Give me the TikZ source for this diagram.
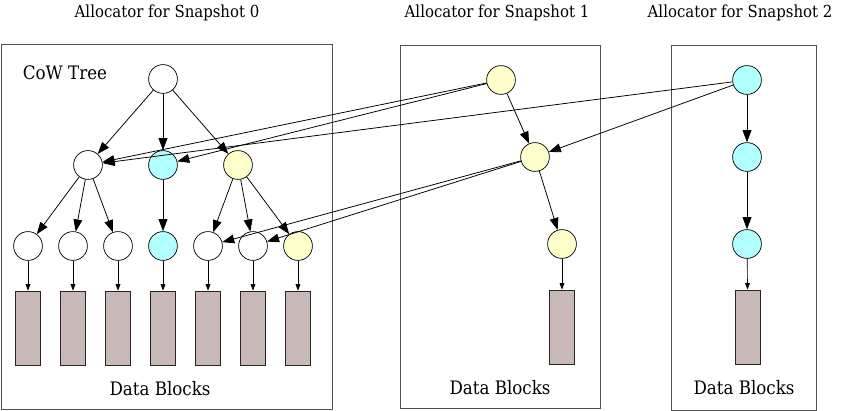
\documentclass[tikz,border=0pt]{standalone}
\usepackage{fontspec}
\setmainfont{DejaVu Serif Condensed}
\usepackage{tikz}
\usetikzlibrary{arrows.meta}
\definecolor{myyellow}{RGB}{255,255,204}
\definecolor{mycyan}{RGB}{178,255,255}
\definecolor{myblock}{RGB}{200,184,184}
\definecolor{myframe}{RGB}{80,80,80}
\tikzset{
  allocframe/.style={draw=myframe, line width=0.7pt},
  treenode/.style={circle, draw=black, fill=white,
    minimum size=0.72cm, inner sep=0pt, line width=0.5pt},
  yellownode/.style={treenode, fill=myyellow},
  cyannode/.style={treenode, fill=mycyan},
  datablock/.style={rectangle, draw=black!85, fill=myblock,
    minimum width=0.63cm, minimum height=1.85cm, inner sep=0pt, line width=0.6pt},
  arrow/.style={-{Triangle[length=3mm, width=2.2mm]}, line width=0.55pt},
  smallarrow/.style={-{Triangle[length=1.6mm, width=1.2mm]}, line width=0.45pt},
  titletxt/.style={font=\fontsize{11.8}{13}\selectfont},
  txt/.style={font=\fontsize{13.2}{15}\selectfont}
}

\begin{document}
\begin{tikzpicture}[x=0.025cm, y=-0.025cm]
  \useasboundingbox (0,0) rectangle (846,411);

  % Allocator frames
  \draw[allocframe] (1,44) rectangle (332,409);
  \draw[allocframe] (400,45) rectangle (600,408);
  \draw[allocframe] (671,45) rectangle (816,410);

  \node[titletxt] (title0) at (167,13) {Allocator for Snapshot 0};
  \node[titletxt] (title1) at (497,13) {Allocator for Snapshot 1};
  \node[titletxt] (title2) at (740,13) {Allocator for Snapshot 2};
  \node[txt] (cowlabel) at (65,73) {CoW Tree};
  \node[txt] (data0) at (160,389) {Data Blocks};
  \node[txt] (data1) at (500,388) {Data Blocks};
  \node[txt] (data2) at (744,388) {Data Blocks};

  % Snapshot 0 tree
  \node[treenode] (root) at (163,79) {};
  \node[treenode] (wa) at (88,165) {};
  \node[cyannode] (ca) at (163,165) {};
  \node[yellownode] (ya) at (238,165) {};
  \foreach \i/\x/\s in {1/28/treenode, 2/73/treenode, 3/118/treenode, 4/163/cyannode,
                        5/208/treenode, 6/253/treenode, 7/298/yellownode} {
    \node[\s] (l\i) at (\x,246) {};
    \node[datablock] (d\i) at (\x,328) {};
    \draw[smallarrow] (l\i) -- (d\i);
  }

  \draw[arrow] (root) -- (wa);
  \draw[arrow] (root) -- (ca);
  \draw[arrow] (root) -- (ya);
  \foreach \j in {1,2,3} \draw[arrow] (wa) -- (l\j);
  \draw[arrow] (ca) -- (l4);
  \foreach \j in {5,6,7} \draw[arrow] (ya) -- (l\j);

  % Snapshot 1 tree
  \node[yellownode] (sa) at (501,80) {};
  \node[yellownode] (sb) at (535,157) {};
  \node[yellownode] (sc) at (562,244) {};
  \node[datablock] (sd) at (562,327) {};
  \draw[arrow] (sa) -- (sb);
  \draw[arrow] (sb) -- (sc);
  \draw[smallarrow] (sc) -- (sd);
  \draw[arrow] (sa) -- (wa);
  \draw[arrow] (sa) -- (ca);
  \draw[arrow] (sb) -- (l5);
  \draw[arrow] (sb) -- (l6);

  % Snapshot 2 tree
  \node[cyannode] (ta) at (747,80) {};
  \node[cyannode] (tb) at (747,157) {};
  \node[cyannode] (tc) at (747,244) {};
  \node[datablock] (td) at (748,327) {};
  \draw[arrow] (ta) -- (tb);
  \draw[arrow] (tb) -- (tc);
  \draw[smallarrow] (tc) -- (td);
  \draw[arrow] (ta) -- (wa);
  \draw[arrow] (ta) -- (sb);
\end{tikzpicture}
\end{document}
